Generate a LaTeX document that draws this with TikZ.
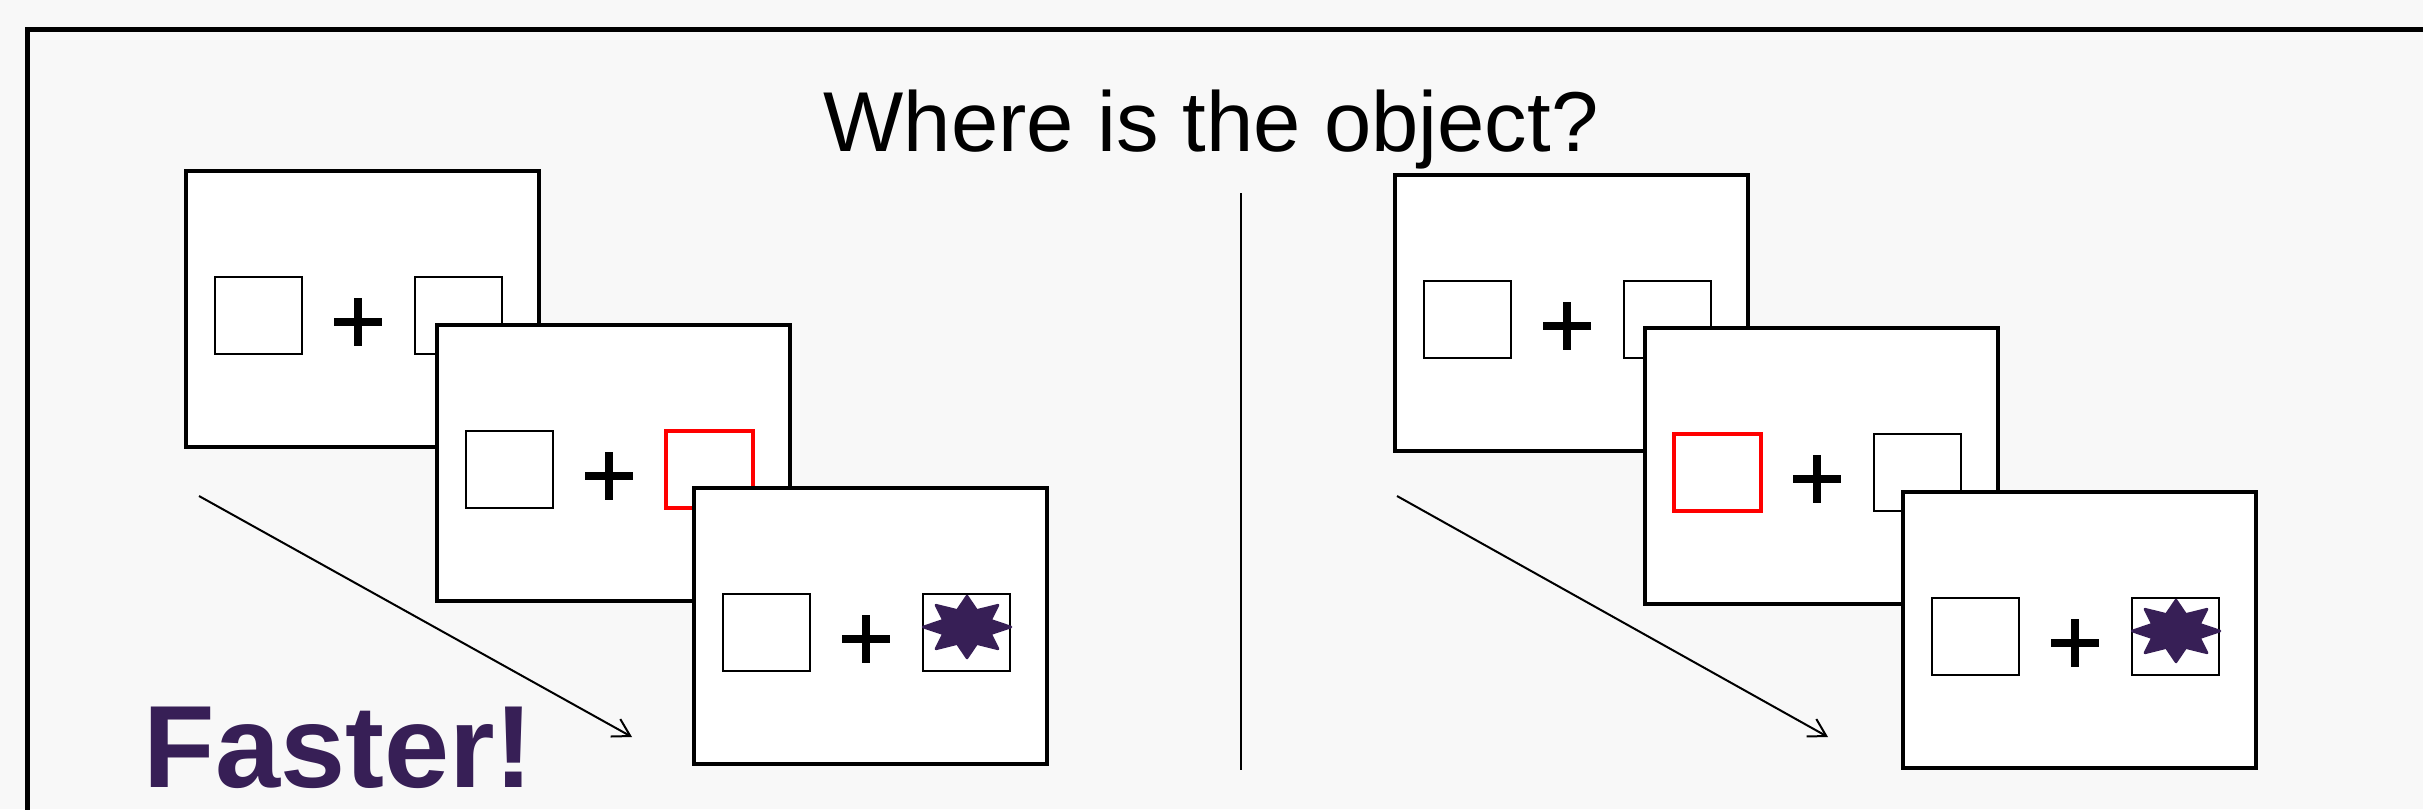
\documentclass[tikz,border=0pt]{standalone}
\usepackage{fontspec}
\setmainfont{Liberation Sans}
\usetikzlibrary{arrows.meta, calc}
\definecolor{objpurple}{HTML}{371F56}
\definecolor{slidegray}{HTML}{F8F8F8}
\definecolor{cuered}{HTML}{FF0000}

\begin{document}
\begin{tikzpicture}[x=1pt, y=-1pt,
    screen/.style={draw, line width=4pt, fill=white, inner sep=0pt,
        minimum width=353pt, minimum height=276pt, anchor=north west},
    plainbox/.style={draw, line width=2pt, fill=white, inner sep=0pt,
        minimum width=87pt, minimum height=77pt},
    redbox/.style={plainbox, draw=cuered, line width=4.5pt},
    fixation/.style={line width=8pt},
    target/.style={fill=objpurple, draw=objpurple, line width=2.5pt, line join=round},
    timearrow/.style={line width=2pt, -{Straight Barb[length=17pt, width=20pt]}},
    divider/.style={line width=2.5pt}]

    \useasboundingbox (0,0) rectangle (2423,809);
    \clip (0,0) rectangle (2423,809);
    \fill[slidegray] (0,0) rectangle (2423,809);
    \draw[line width=5pt] (27.5,29) rectangle (2460,850);

    %question
    \node[anchor=base, font=\fontsize{85pt}{100pt}\selectfont] (question) at (1211,151)
        {Where is the object?};

    %divider and time arrows
    \coordinate (div-top) at (1241,193);
    \coordinate (div-bot) at (1241,770);
    \draw[divider] (div-top) -- (div-bot);

    \coordinate (la-tail) at (199,496);
    \coordinate (la-head) at (632,737);
    \coordinate (ra-tail) at (1397,496);
    \coordinate (ra-head) at (1828,737);
    \draw[timearrow] (la-tail) -- (la-head);
    \draw[timearrow] (ra-tail) -- (ra-head);

    %screens
    \foreach \nm/\px/\py/\lsty/\rsty/\obj in {L1/184/169/plainbox/plainbox/0,
            L2/435/323/plainbox/redbox/0, L3/692/486/plainbox/plainbox/1,
            R1/1393/173/plainbox/plainbox/0, R2/1643/326/redbox/plainbox/0,
            R3/1901/490/plainbox/plainbox/1} {
        \node[screen] (\nm) at (\px,\py) {};
        \node[\lsty] (\nm-l) at ($(\nm.north west)+(74.5,146.5)$) {};
        \node[\rsty] (\nm-r) at ($(\nm.north west)+(274.5,146.5)$) {};

        \coordinate (\nm-c) at ($(\nm.north west)+(174,153)$);
        \draw[fixation] ($(\nm-c)+(-24,0)$) -- ($(\nm-c)+(24,0)$);
        \draw[fixation] ($(\nm-c)+(0,-24)$) -- ($(\nm-c)+(0,24)$);

        \ifnum\obj=1
            \coordinate (\nm-s) at ($(\nm-r)+(0.5,-5.5)$);
            \foreach \k in {0,...,15} {
                \pgfmathsetmacro{\rad}{isodd(\k) ? 0.58 : 1}
                \coordinate (\nm-p\k) at ($(\nm-s)+({\rad*44*cos(22.5*\k)},{\rad*31*sin(22.5*\k)})$);
            }
            \filldraw[target] (\nm-p0) \foreach \k in {1,...,15} { -- (\nm-p\k)} -- cycle;
        \fi
    }

    %label
    \node[anchor=base west, text=objpurple, font=\fontsize{117pt}{130pt}\selectfont\bfseries]
        (faster) at (140,787) {Faster!};

\end{tikzpicture}
\end{document}
